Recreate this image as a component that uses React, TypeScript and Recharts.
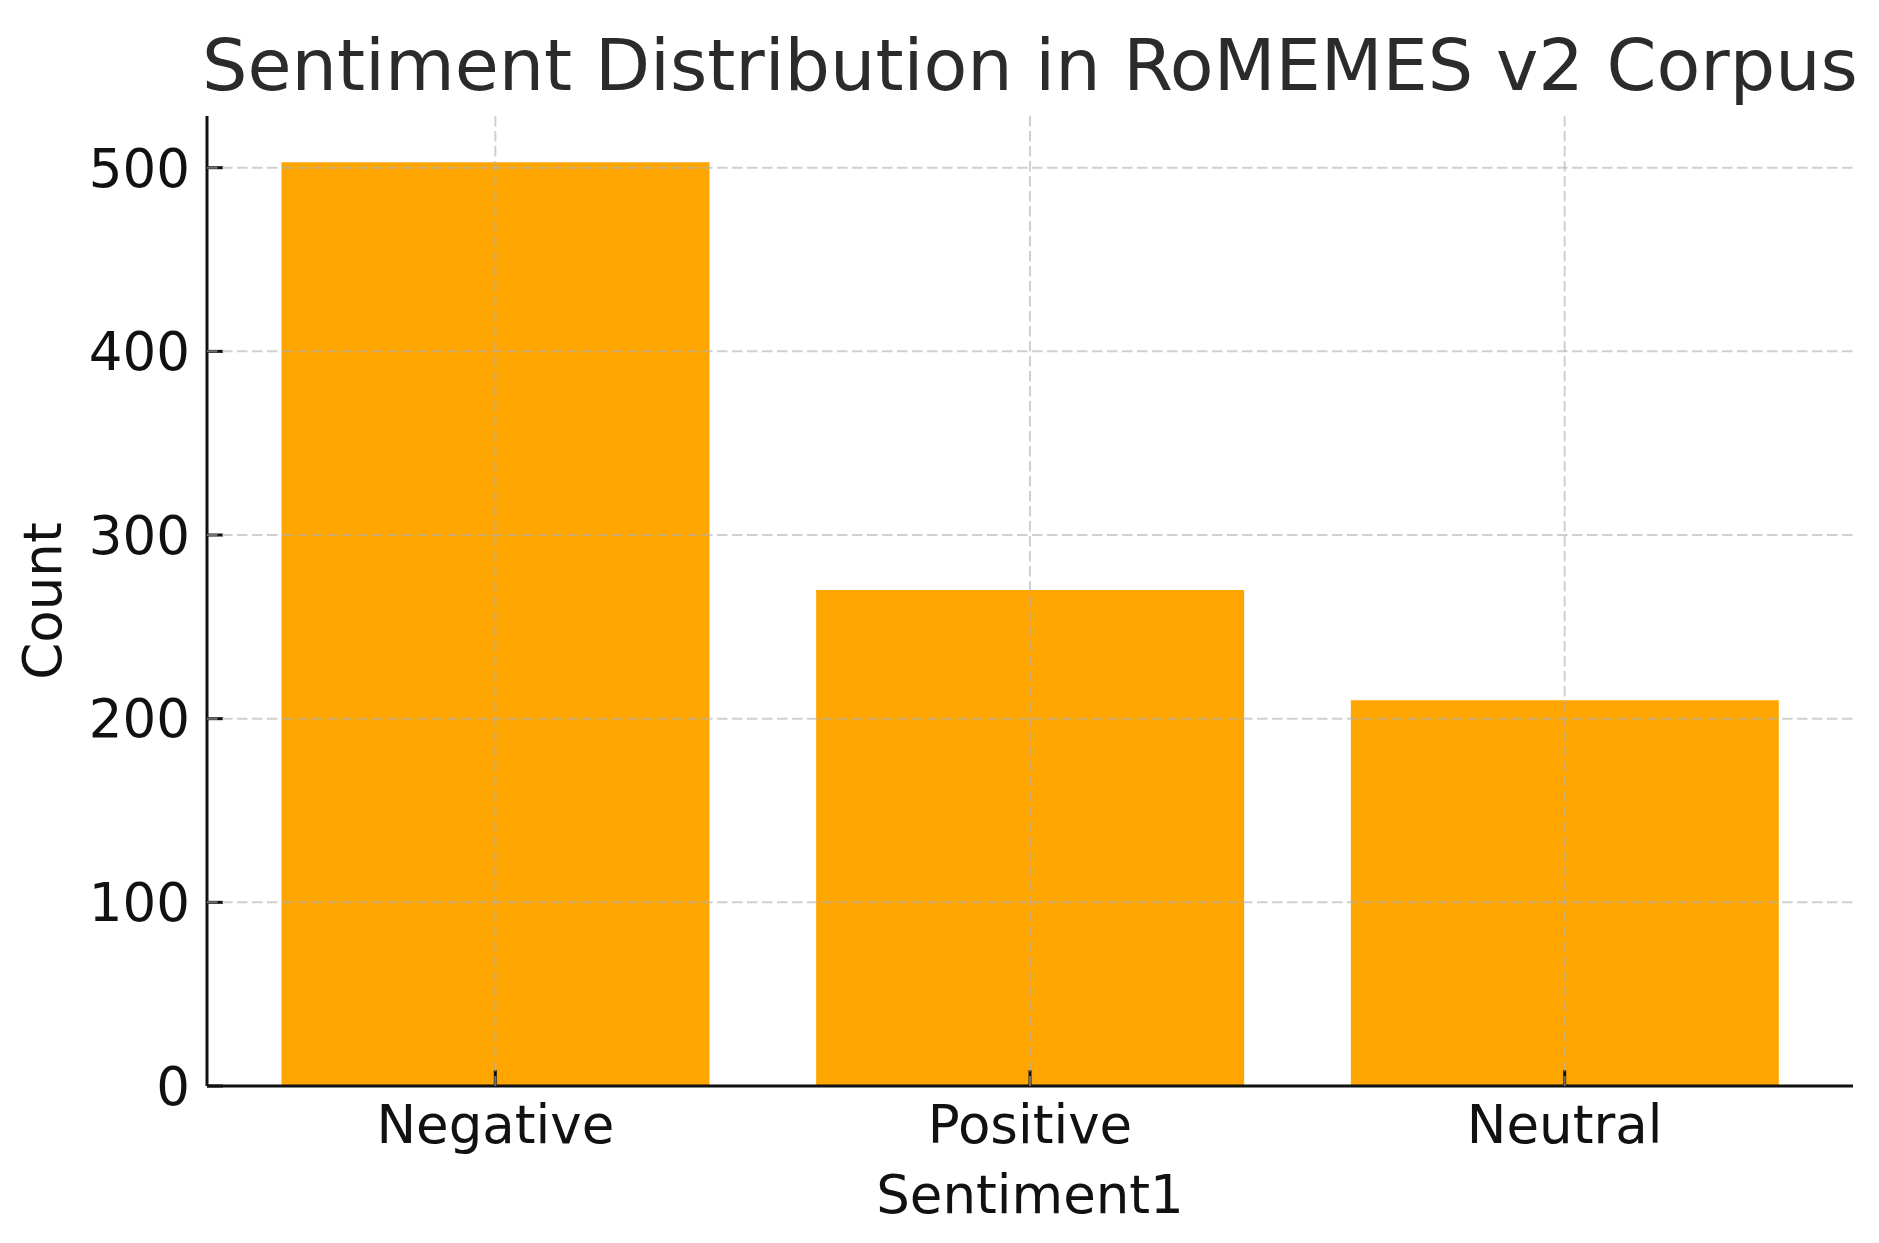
import { Bar, BarChart, Label, XAxis, YAxis } from "recharts";

const categories = ["Negative", "Positive", "Neutral"];
const counts = [503, 270, 210];
const yTicks = [0, 100, 200, 300, 400, 500];
const yMax = 528.15; // 503 * 1.05 headroom, like the source plot

const rows = categories.map((name, i) => ({ name, count: counts[i] }));

const W = 1879;
const H = 1243;
const FONT = "'DejaVu Sans', sans-serif";
const INK = "#111111";

// plot box (margin + axis sizes below)
const LEFT = 207;
const RIGHT = W - 26;
const TOP = 116;
const BOTTOM = H - 157;

// grid sits over the bars in the original; axis layers render above bars,
// so each tick draws its own dashed grid line
const gridProps = {
  stroke: "#b0b0b0",
  strokeOpacity: 0.6,
  strokeWidth: 2,
  strokeDasharray: "10.5 4.5",
};

function XTick({ x, y, payload }: any) {
  const cx = payload.coordinate;
  return (
    <g>
      <line x1={cx} x2={cx} y1={TOP} y2={BOTTOM} {...gridProps} />
      <text x={x} y={y} dy="0.71em" textAnchor="middle" fontSize={53} fontFamily={FONT} fill={INK}>
        {payload.value}
      </text>
    </g>
  );
}

function YTick({ x, y, payload }: any) {
  const cy = payload.coordinate;
  return (
    <g>
      {payload.value !== 0 && <line x1={LEFT} x2={RIGHT} y1={cy} y2={cy} {...gridProps} />}
      <text x={x} y={y} dy="0.355em" textAnchor="end" fontSize={53} fontFamily={FONT} fill={INK}>
        {payload.value}
      </text>
    </g>
  );
}

export default function App() {
  return (
    <div style={{ width: W, height: H, background: "#ffffff" }}>
      <style>{"body{margin:0}"}</style>
      <BarChart
        width={W}
        height={H}
        data={rows}
        margin={{ top: TOP, right: W - RIGHT, bottom: 0, left: 0 }}
        barCategoryGap="10%"
      >
        <Bar dataKey="count" fill="#FFA500" isAnimationActive={false} />
        <XAxis
          dataKey="name"
          height={H - BOTTOM}
          padding={{ left: 21, right: 21 }}
          tickSize={-16}
          tickMargin={35}
          tick={<XTick />}
          axisLine={{ stroke: INK, strokeWidth: 3 }}
          tickLine={{ stroke: INK, strokeWidth: 3 }}
        >
          <Label
            content={({ viewBox }: any) => {
              const cx = viewBox.x + viewBox.width / 2;
              return (
                <g>
                  <text x={cx} y={1213} textAnchor="middle" fontSize={53} fontFamily={FONT} fill={INK}>
                    Sentiment1
                  </text>
                  <text x={cx} y={90} textAnchor="middle" fontSize={71.6} fontFamily={FONT} fill="#2b2b2b">
                    Sentiment Distribution in RoMEMES v2 Corpus
                  </text>
                </g>
              );
            }}
          />
        </XAxis>
        <YAxis
          width={LEFT}
          domain={[0, yMax]}
          ticks={yTicks}
          tickSize={-16}
          tickMargin={33}
          tick={<YTick />}
          axisLine={{ stroke: INK, strokeWidth: 3 }}
          tickLine={{ stroke: INK, strokeWidth: 3 }}
        >
          <Label
            content={({ viewBox }: any) => {
              const cy = viewBox.y + viewBox.height / 2;
              return (
                <text
                  x={61}
                  y={cy}
                  transform={`rotate(-90, 61, ${cy})`}
                  textAnchor="middle"
                  fontSize={53}
                  fontFamily={FONT}
                  fill={INK}
                >
                  Count
                </text>
              );
            }}
          />
        </YAxis>
      </BarChart>
    </div>
  );
}
